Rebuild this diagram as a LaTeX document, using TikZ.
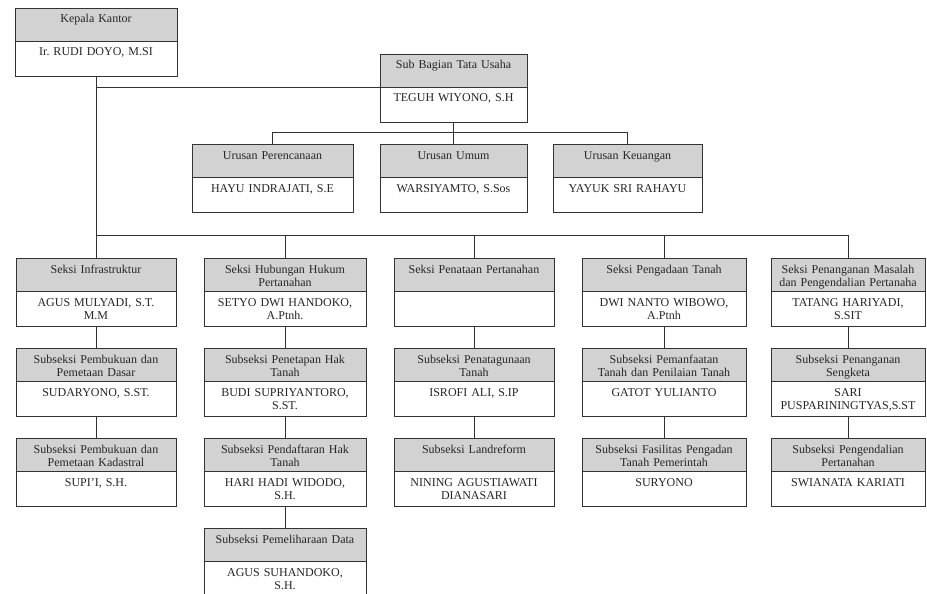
\documentclass[tikz,border=0pt]{standalone}
\usepackage{fontspec}
\setmainfont{Liberation Serif}
\usepackage{tikz}
\usetikzlibrary{positioning}
\frenchspacing
\tikzset{%
  unitbox/.style={draw=black!80, line width=0.8pt, align=center, outer sep=0pt,
    inner xsep=2pt, inner ysep=5pt, text height=10pt, text=black!85,
    font=\fontsize{12}{13}\selectfont},
  headbox/.style={unitbox, fill=gray!35, text depth=13pt, text width=#1},
  namebox/.style={unitbox, fill=white, text depth=15pt, text width=#1},
  link/.style={draw=black!80, line width=0.8pt}
}

\begin{document}
\begin{tikzpicture}[x=1pt,y=-1pt]
  \useasboundingbox (0,0) rectangle (927,594);

  \node[headbox=158pt, anchor=north] (hKepala) at (96,8) {Kepala Kantor};
  \node[namebox=158pt, below=0pt of hKepala] (nKepala) {Ir.\ RUDI DOYO, M.SI};

  \node[headbox=143pt, anchor=north] (hSubBag) at (453.5,54) {Sub Bagian Tata Usaha};
  \node[namebox=143pt, below=0pt of hSubBag] (nSubBag) {TEGUH WIYONO, S.H};

  \node[headbox=143pt, below=22pt of nSubBag] (hUrUmum) {Urusan Umum};
  \node[namebox=143pt, below=0pt of hUrUmum] (nUrUmum) {WARSIYAMTO, S.Sos};
  \node[headbox=157pt, left=27pt of hUrUmum] (hUrPer) {Urusan Perencanaan};
  \node[namebox=157pt, below=0pt of hUrPer] (nUrPer) {HAYU INDRAJATI, S.E};
  \node[headbox=145pt, right=26pt of hUrUmum] (hUrKeu) {Urusan Keuangan};
  \node[namebox=145pt, below=0pt of hUrKeu] (nUrKeu) {YAYUK SRI RAHAYU};

  % seksi
  \node[headbox=156pt, below=182pt of nKepala] (hInfra) {Seksi Infrastruktur};
  \node[namebox=156pt, below=0pt of hInfra] (nInfra) {AGUS MULYADI, S.T.\\M.M};
  \node[headbox=158pt, right=28pt of hInfra] (hHukum) {Seksi Hubungan Hukum\\Pertanahan};
  \node[namebox=158pt, below=0pt of hHukum] (nHukum) {SETYO DWI HANDOKO,\\A.Ptnh.};
  \node[headbox=156pt, right=28pt of hHukum] (hPenataan) {Seksi Penataan Pertanahan};
  \node[namebox=156pt, below=0pt of hPenataan] (nPenataan) {};
  \node[headbox=160pt, right=28pt of hPenataan] (hPengadaan) {Seksi Pengadaan Tanah};
  \node[namebox=160pt, below=0pt of hPengadaan] (nPengadaan) {DWI NANTO WIBOWO,\\A.Ptnh};
  \node[headbox=150pt, right=25pt of hPengadaan] (hMasalah) {Seksi Penanganan Masalah\\dan Pengendalian Pertanaha};
  \node[namebox=150pt, below=0pt of hMasalah] (nMasalah) {TATANG HARIYADI,\\S.SIT};

  % subseksi
  \node[headbox=156pt, below=22pt of nInfra] (hPembDasar) {Subseksi Pembukuan dan\\Pemetaan Dasar};
  \node[namebox=156pt, below=0pt of hPembDasar] (nPembDasar) {SUDARYONO, S.ST.};
  \node[headbox=156pt, below=22pt of nPembDasar] (hPembKad) {Subseksi Pembukuan dan\\Pemetaan Kadastral};
  \node[namebox=156pt, below=0pt of hPembKad] (nPembKad) {SUPI'I, S.H.};

  \node[headbox=158pt, below=22pt of nHukum] (hPenetapan) {Subseksi Penetapan Hak\\Tanah};
  \node[namebox=158pt, below=0pt of hPenetapan] (nPenetapan) {BUDI SUPRIYANTORO,\\S.ST.};
  \node[headbox=158pt, below=22pt of nPenetapan] (hPendaftaran) {Subseksi Pendaftaran Hak\\Tanah};
  \node[namebox=158pt, below=0pt of hPendaftaran] (nPendaftaran) {HARI HADI WIDODO,\\S.H.};
  \node[headbox=158pt, below=22pt of nPendaftaran] (hPemeliharaan) {Subseksi Pemeliharaan Data};
  \node[namebox=158pt, below=0pt of hPemeliharaan] (nPemeliharaan) {AGUS SUHANDOKO,\\S.H.};

  \node[headbox=156pt, below=22pt of nPenataan] (hPenatagunaan) {Subseksi Penatagunaan\\Tanah};
  \node[namebox=156pt, below=0pt of hPenatagunaan] (nPenatagunaan) {ISROFI ALI, S.IP};
  \node[headbox=156pt, below=22pt of nPenatagunaan] (hLandreform) {Subseksi Landreform};
  \node[namebox=156pt, below=0pt of hLandreform] (nLandreform) {NINING AGUSTIAWATI\\DIANASARI};

  \node[headbox=160pt, below=22pt of nPengadaan] (hPemanfaatan) {Subseksi Pemanfaatan\\Tanah dan Penilaian Tanah};
  \node[namebox=160pt, below=0pt of hPemanfaatan] (nPemanfaatan) {GATOT YULIANTO};
  \node[headbox=160pt, below=22pt of nPemanfaatan] (hFasilitas) {Subseksi Fasilitas Pengadan\\Tanah Pemerintah};
  \node[namebox=160pt, below=0pt of hFasilitas] (nFasilitas) {SURYONO};

  \node[headbox=150pt, below=22pt of nMasalah] (hSengketa) {Subseksi Penanganan\\Sengketa};
  \node[namebox=150pt, below=0pt of hSengketa] (nSengketa) {SARI\\PUSPARININGTYAS,S.ST};
  \node[headbox=150pt, below=22pt of nSengketa] (hPengendalian) {Subseksi Pengendalian\\Pertanahan};
  \node[namebox=150pt, below=0pt of hPengendalian] (nPengendalian) {SWIANATA KARIATI};

  \coordinate (urbus) at (0,132);
  \coordinate (seksibus) at (0,235);

  \draw[link] (nKepala) -- (hInfra);
  \draw[link] (nKepala.south |- hSubBag.south) -- (hSubBag.south west);
  \draw[link] (nSubBag) -- (hUrUmum);
  \draw[link] (hUrPer.north) -- (hUrPer.north |- urbus) -| (hUrKeu.north);

  \draw[link] (hInfra.north |- seksibus) -| (hMasalah.north);
  \draw[link] (hHukum.north |- seksibus) -- (hHukum.north);
  \draw[link] (hPenataan.north |- seksibus) -- (hPenataan.north);
  \draw[link] (hPengadaan.north |- seksibus) -- (hPengadaan.north);

  \draw[link] (nInfra) -- (hPembDasar);
  \draw[link] (nPembDasar) -- (hPembKad);
  \draw[link] (nHukum) -- (hPenetapan);
  \draw[link] (nPenetapan) -- (hPendaftaran);
  \draw[link] (nPendaftaran) -- (hPemeliharaan);
  \draw[link] (nPenataan) -- (hPenatagunaan);
  \draw[link] (nPenatagunaan) -- (hLandreform);
  \draw[link] (nPengadaan) -- (hPemanfaatan);
  \draw[link] (nPemanfaatan) -- (hFasilitas);
  \draw[link] (nMasalah) -- (hSengketa);
  \draw[link] (nSengketa) -- (hPengendalian);
\end{tikzpicture}
\end{document}
